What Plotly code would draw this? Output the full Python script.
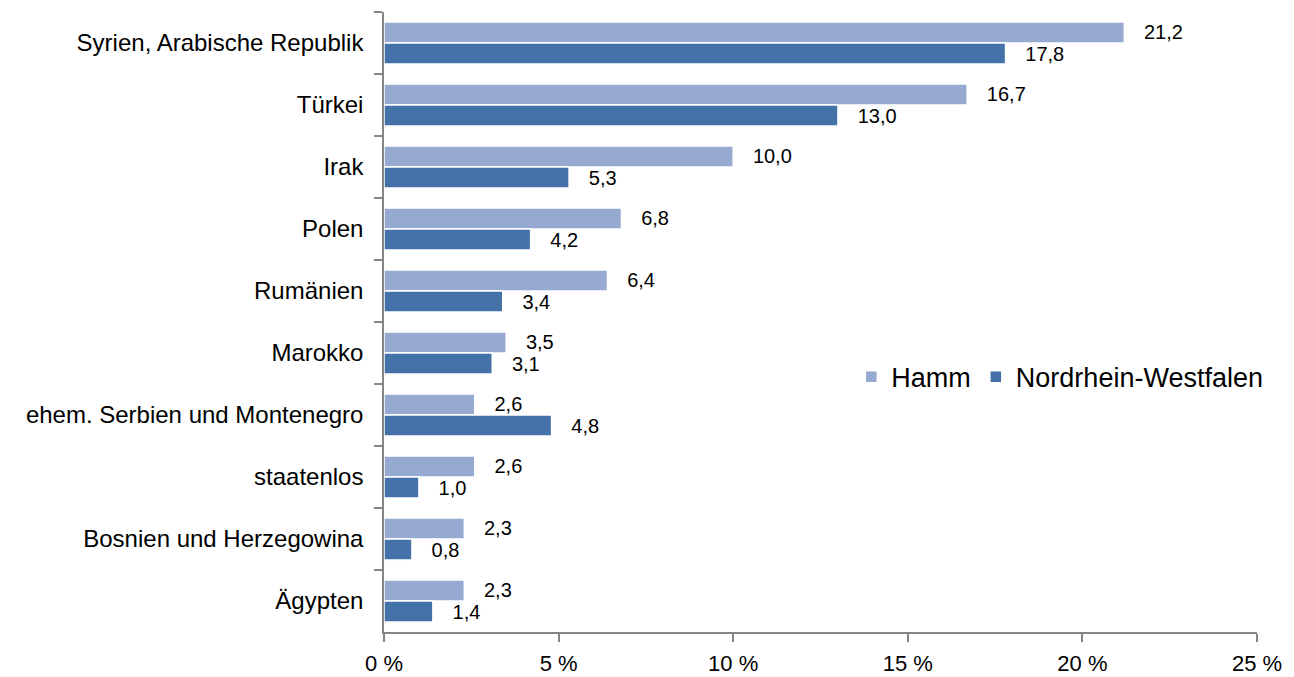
import plotly.graph_objects as go

categories = ["Syrien, Arabische Republik", "Türkei", "Irak", "Polen", "Rumänien",
              "Marokko", "ehem. Serbien und Montenegro", "staatenlos",
              "Bosnien und Herzegowina", "Ägypten"]
hamm = [21.2, 16.7, 10.0, 6.8, 6.4, 3.5, 2.6, 2.6, 2.3, 2.3]
nrw = [17.8, 13.0, 5.3, 4.2, 3.4, 3.1, 4.8, 1.0, 0.8, 1.4]
x_ticks = [0, 5, 10, 15, 20, 25]
x_tick_labels = [f"{v} %" for v in x_ticks]

FONT = "Liberation Sans"
NB = "\u00a0"

fig = go.Figure()
fig.add_trace(go.Bar(
    y=categories, x=hamm, orientation="h", name="Hamm",
    marker=dict(color="#95A9D1", line=dict(color="white", width=1.5)),
    texttemplate=NB * 3 + "%{x:.1f}", textposition="outside",
    textfont=dict(family=FONT, size=20, color="#000000"),
    constraintext="none", cliponaxis=False,
))
fig.add_trace(go.Bar(
    y=categories, x=nrw, orientation="h", name="Nordrhein-Westfalen",
    marker=dict(color="#4472A8", line=dict(color="white", width=1.5)),
    texttemplate=NB * 3 + "%{x:.1f}", textposition="outside",
    textfont=dict(family=FONT, size=20, color="#000000"),
    constraintext="none", cliponaxis=False,
))

fig.update_layout(
    width=1294, height=677,
    margin=dict(l=376, r=45, t=4, b=53, autoexpand=False),
    paper_bgcolor="white", plot_bgcolor="white",
    barmode="group", bargap=0.32, bargroupgap=0.0,
    separators=",.",
    font=dict(family=FONT, size=22, color="#000000"),
    showlegend=True,
    legend=dict(orientation="h", x=1.013, xanchor="right", y=0.411, yanchor="middle",
                font=dict(family=FONT, size=27, color="#000000"),
                traceorder="normal", bgcolor="rgba(0,0,0,0)"),
    xaxis=dict(range=[0, 25], tickvals=x_ticks, ticktext=x_tick_labels,
               showgrid=False, zeroline=False, showline=True,
               linecolor="#868686", linewidth=1.5,
               ticks="outside", ticklen=8, tickcolor="#868686", tickwidth=1.5,
               ticklabelstandoff=3,
               tickfont=dict(family=FONT, size=22, color="#000000")),
    yaxis=dict(autorange="reversed", type="category", tickson="boundaries",
               showgrid=False, showline=True, linecolor="#868686", linewidth=1.5,
               ticks="outside", ticklen=8, tickcolor="#868686", tickwidth=1.5,
               ticklabelstandoff=14,
               tickfont=dict(family=FONT, size=24, color="#000000")),
)

fig.write_html("out.html")
